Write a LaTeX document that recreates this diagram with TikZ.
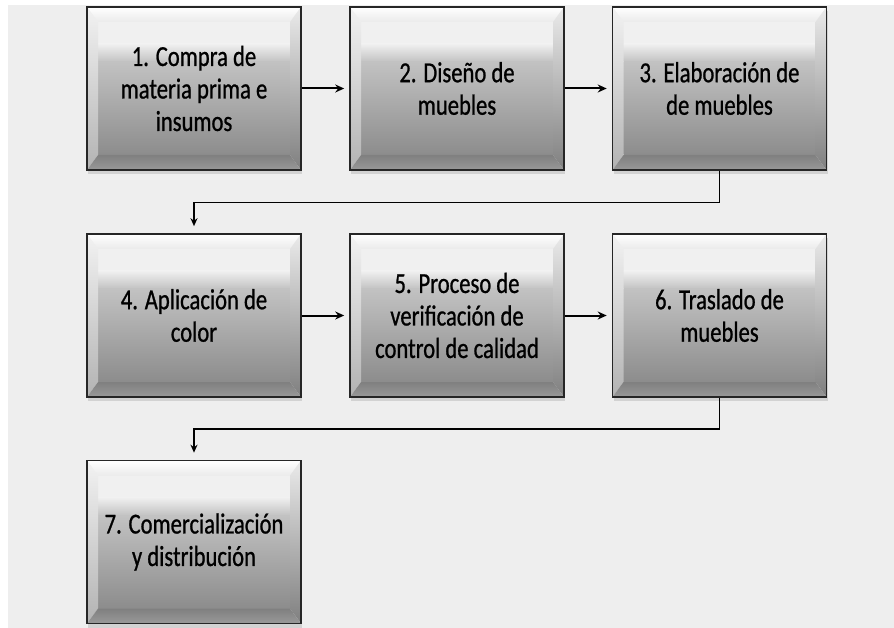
\documentclass[tikz,border=0pt]{standalone}
\usepackage{fontspec}
\setmainfont[FakeStretch=0.78, FakeBold=0.8]{Carlito}
\usetikzlibrary{calc,arrows.meta,shadows}

\definecolor{pagegray}{HTML}{EEEEEE}

% bevelled edges and face of a stage box
\newcommand{\bevelparts}{%
    \path (path picture bounding box.north west) coordinate (p1)
          (path picture bounding box.north east) coordinate (p2)
          (path picture bounding box.south east) coordinate (p3)
          (path picture bounding box.south west) coordinate (p4);
    \path ($(p1)+(11,15)$) coordinate (q1)
          ($(p2)+(-11,15)$) coordinate (q2)
          ($(p3)+(-11,-15)$) coordinate (q3)
          ($(p4)+(11,-15)$) coordinate (q4);
    % face
    \fill[black!6] (q1) rectangle ($(q2)+(0,22)$);
    \shade[top color=black!6, bottom color=black!24] ($(q1)+(0,22)$) rectangle ($(q2)+(0,40)$);
    \shade[top color=black!24, bottom color=black!45] ($(q1)+(0,40)$) rectangle (q3);
    % bevels
    \shade[top color=white, bottom color=black!8] (p1) -- (p2) -- (q2) -- (q1) -- cycle;
    \shade[top color=white!95!black, bottom color=black!30] (p1) -- (q1) -- (q4) -- (p4) -- cycle;
    \shade[top color=black!8, bottom color=black!50] (p2) -- (q2) -- (q3) -- (p3) -- cycle;
    \shade[top color=black!50, bottom color=black!40] (p4) -- (q4) -- (q3) -- (p3) -- cycle;
}

\tikzset{
    stage/.style={draw=black!85, line width=1.6pt, minimum width=214pt, minimum height=163pt,
        inner sep=0pt, align=center, font=\fontsize{29pt}{32.5pt}\selectfont,
        fill=black!6,
        drop shadow={opacity=0.25, shadow xshift=1pt, shadow yshift=-4pt},
        path picture={\bevelparts}},
    flow/.style={line width=2pt, -{Stealth[length=9pt,width=8pt]}, shorten >=5pt},
    elbow/.style={line width=1.4pt, -{Stealth[length=8pt,width=7pt]}, shorten >=7pt},
}

\begin{document}
\begin{tikzpicture}[x=1pt, y=-1pt]
    % Background
    \fill[white] (0,0) rectangle (894,628);
    \fill[pagegray] (8,5) rectangle (894,628);

    % Stages
    \node[stage] (s1) at (194,88.5) {1. Compra de\\materia prima e\\insumos};
    \node[stage] (s2) at (457,88.5) {2. Diseño de\\muebles};
    \node[stage] (s3) at (719.5,88.5) {3. Elaboración de\\de muebles};
    \node[stage] (s4) at (194,315.5) {4. Aplicación de\\color};
    \node[stage] (s5) at (457,315.5) {5. Proceso de\\verificación de\\control de calidad};
    \node[stage] (s6) at (719.5,315.5) {6. Traslado de\\muebles};
    \node[stage] (s7) at (194,542) {7. Comercialización\\y distribución};

    % Arrows
    \draw[flow] (s1) -- (s2);
    \draw[flow] (s2) -- (s3);
    \draw[flow] (s4) -- (s5);
    \draw[flow] (s5) -- (s6);
    \draw[elbow] (s3.south) -- ++(0,32) -| (s4.north);
    \draw[elbow] (s6.south) -- ++(0,31) -| (s7.north);
\end{tikzpicture}
\end{document}
